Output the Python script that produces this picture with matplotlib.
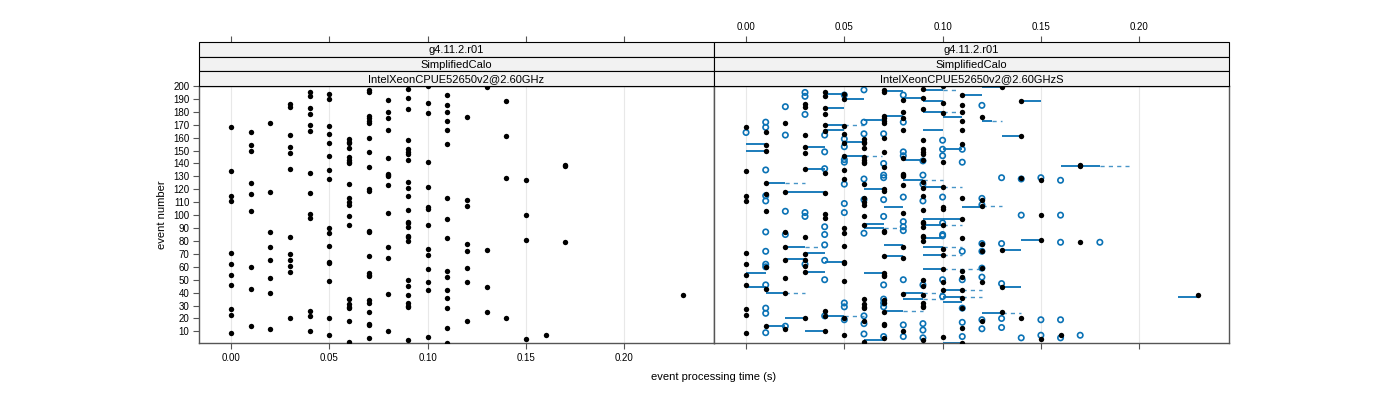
import numpy as np
import matplotlib.pyplot as plt
from matplotlib.patches import Rectangle

plt.rcParams['font.family'] = ['Liberation Sans', 'DejaVu Sans']

# event numbers per processing-time bin (s)
times = [0.00, 0.01, 0.02, 0.03, 0.04, 0.05, 0.06, 0.07, 0.08, 0.09,
         0.10, 0.11, 0.12, 0.13, 0.14, 0.15, 0.16, 0.17, 0.23]
events = [
    [168, 134, 115, 111, 71, 62, 54, 46, 27, 23, 9],
    [164, 154, 150, 125, 116, 103, 60, 43, 14],
    [171, 118, 87, 75, 65, 51, 40, 12],
    [186, 184, 162, 153, 148, 136, 83, 70, 65, 61, 56, 20],
    [195, 192, 183, 178, 170, 165, 133, 117, 101, 98, 26, 22, 10],
    [194, 190, 169, 163, 156, 146, 135, 128, 90, 86, 76, 64, 63, 49, 20, 7],
    [159, 157, 156, 152, 145, 143, 141, 140, 124, 113, 110, 108, 99, 92,
     35, 31, 29, 28, 18, 2],
    [197, 195, 177, 175, 173, 171, 160, 149, 137, 120, 119, 88, 87, 68,
     55, 54, 53, 34, 32, 25, 16, 15, 5],
    [189, 180, 175, 166, 144, 132, 131, 130, 123, 102, 75, 67, 39, 10],
    [198, 191, 182, 158, 151, 149, 147, 143, 126, 121, 115, 104, 95, 94,
     91, 84, 83, 80, 50, 45, 38, 32, 30, 29, 3],
    [200, 187, 179, 141, 122, 106, 105, 92, 74, 69, 58, 48, 42, 6],
    [193, 185, 180, 173, 166, 155, 113, 97, 82, 57, 52, 42, 36, 28, 13, 1],
    [176, 112, 107, 78, 72, 59, 48, 18],
    [199, 73, 44, 25],
    [188, 161, 129, 20],
    [127, 100, 81, 4],
    [7],
    [139, 138, 79],
    [38],
]

# second run (right panel, open circles): time bin and event number
blue_t = [0.03, 0.03, 0.02, 0.03, 0.01, 0.01, 0.00, 0.02, 0.05, 0.06, 0.08, 0.04,
          0.06, 0.05, 0.05, 0.06, 0.07, 0.08, 0.10, 0.10, 0.11, 0.08, 0.08, 0.09,
          0.10, 0.11, 0.04, 0.05, 0.05, 0.07, 0.05, 0.06, 0.07, 0.07, 0.09, 0.09,
          0.04, 0.01, 0.01, 0.01, 0.02, 0.03, 0.03, 0.05, 0.05, 0.06, 0.07, 0.08,
          0.10, 0.12, 0.12, 0.09,
          0.01, 0.02, 0.04, 0.04, 0.04, 0.01, 0.01, 0.01, 0.03, 0.04, 0.04, 0.01,
          0.05, 0.05, 0.04, 0.05, 0.06, 0.06, 0.01, 0.01, 0.02, 0.01, 0.06, 0.07,
          0.06, 0.07, 0.08, 0.08, 0.08, 0.10, 0.10, 0.10, 0.11, 0.12, 0.12, 0.12,
          0.10, 0.08, 0.07, 0.09, 0.11, 0.10, 0.07, 0.07, 0.07, 0.11, 0.09, 0.09,
          0.09, 0.08, 0.08, 0.11, 0.11, 0.12, 0.12,
          0.12, 0.13, 0.14, 0.15, 0.16, 0.14, 0.16,
          0.13, 0.16, 0.18, 0.12, 0.13, 0.13, 0.15, 0.16, 0.13, 0.15, 0.17, 0.14,
          0.16]
blue_ev = [195, 192, 184, 178, 172, 168, 164, 162, 193, 197, 193, 162,
           172, 159, 153, 163, 163, 172, 158, 151, 151, 149, 146, 142,
           146, 141, 149, 143, 141, 140, 124, 128, 131, 129, 131, 124,
           136, 135, 115, 111, 103, 102, 99, 109, 102, 112, 112, 114,
           114, 113, 108, 111,
           87, 85, 91, 85, 77, 72, 62, 60, 62, 65, 50, 46,
           32, 29, 22, 19, 22, 16, 28, 24, 14, 9, 8, 6,
           86, 99, 95, 91, 88, 94, 85, 84, 72, 78, 59, 52,
           50, 50, 46, 46, 50, 37, 35, 32, 29, 28, 16, 11,
           5, 15, 6, 17, 6, 19, 12,
           185, 129, 128, 129, 127, 100, 100,
           78, 79, 79, 72, 47, 20, 19, 19, 13, 7, 7, 5,
           5]

# shift segments: event, start, end of solid part, end of dashed part (s)
seg_ev = [194, 190, 196, 197, 191, 193, 183, 188, 180, 177, 176, 170, 166, 174,
          166, 157, 151, 153, 146, 143, 136, 155, 150, 125, 118, 120, 127, 122,
          106, 97, 106,
          75, 66, 71, 64, 56, 55, 44, 40, 20, 14, 10, 22, 77, 68, 93, 90, 55,
          40, 35, 26, 97, 92, 75, 69, 58, 42, 37, 82, 1, 3, 33,
          199, 188, 173, 161, 138, 107, 81, 73, 44, 37, 24]
seg_t0 = [0.04, 0.05, 0.07, 0.09, 0.08, 0.11, 0.04, 0.09, 0.09, 0.07, 0.10, 0.04,
          0.04, 0.06, 0.09, 0.05, 0.10, 0.03, 0.05, 0.08, 0.03, 0.00, 0.00, 0.01,
          0.02, 0.06, 0.08, 0.09, 0.07, 0.10, 0.11,
          0.02, 0.02, 0.03, 0.04, 0.03, 0.00, 0.00, 0.01, 0.02, 0.01, 0.03, 0.04,
          0.07, 0.07, 0.06, 0.06, 0.06, 0.08, 0.08, 0.07, 0.09, 0.09, 0.09, 0.09,
          0.09, 0.10, 0.10, 0.09, 0.10, 0.06, 0.10,
          0.12, 0.14, 0.12, 0.13, 0.16, 0.12, 0.14, 0.13, 0.13, 0.22, 0.12]
seg_t1 = [0.05, 0.06, 0.08, 0.10, 0.09, 0.12, 0.05, 0.10, 0.10, 0.08, 0.11, 0.05,
          0.05, 0.07, 0.10, 0.06, 0.11, 0.04, 0.06, 0.09, 0.04, 0.01, 0.01, 0.02,
          0.04, 0.07, 0.09, 0.10, 0.08, 0.11, 0.12,
          0.03, 0.03, 0.04, 0.05, 0.04, 0.01, 0.01, 0.02, 0.03, 0.02, 0.04, 0.05,
          0.08, 0.08, 0.07, 0.07, 0.07, 0.09, 0.09, 0.08, 0.10, 0.10, 0.10, 0.10,
          0.10, 0.11, 0.11, 0.10, 0.11, 0.07, 0.11,
          0.13, 0.15, 0.125, 0.14, 0.18, 0.12, 0.15, 0.14, 0.14, 0.23, 0.13]
seg_t2 = [0.05, 0.06, 0.08, 0.107, 0.09, 0.12, 0.05, 0.10, 0.107, 0.08, 0.11, 0.06,
          0.05, 0.07, 0.10, 0.06, 0.11, 0.04, 0.069, 0.09, 0.04, 0.01, 0.01, 0.03,
          0.04, 0.07, 0.10, 0.11, 0.08, 0.11, 0.12,
          0.04, 0.03, 0.04, 0.05, 0.04, 0.01, 0.01, 0.03, 0.03, 0.02, 0.04, 0.06,
          0.08, 0.08, 0.07, 0.08, 0.07, 0.10, 0.10, 0.09, 0.10, 0.11, 0.11, 0.11,
          0.12, 0.12, 0.12, 0.10, 0.11, 0.07, 0.11,
          0.13, 0.15, 0.13, 0.14, 0.195, 0.13, 0.15, 0.14, 0.14, 0.23, 0.14]

strip_rows = ["g4.11.2.r01", "SimplifiedCalo"]
cpu_left = "IntelXeonCPUE52650v2@2.60GHz"
cpu_right = "IntelXeonCPUE52650v2@2.60GHzS"
xticks = [0.00, 0.05, 0.10, 0.15, 0.20]
yticks = list(range(10, 201, 10))

x = np.concatenate([[t] * len(e) for t, e in zip(times, events)])
y = np.concatenate([e for e in events])

fig = plt.figure(figsize=(14, 4), dpi=100)
W, H = 1400, 400
frame_col = "#555555"
blue = "#0a72b5"
xlim = (-0.0163, 0.2457)


def fx(p):
    return p / W


def fy(p):
    return 1 - p / H


px_l, px_m, px_r = 199, 714, 1229
py_top, py_bot = 86, 343
ax1 = fig.add_axes([fx(px_l), fy(py_bot), fx(px_m - px_l), fy(py_top) - fy(py_bot)])
ax2 = fig.add_axes([fx(px_m), fy(py_bot), fx(px_r - px_m), fy(py_top) - fy(py_bot)])

for ax in (ax1, ax2):
    ax.set_xlim(*xlim)
    ax.set_ylim(1, 200)
    for xv in xticks:
        ax.axvline(xv, color="#e8e8e8", lw=0.8, zorder=0)
    for s in ax.spines.values():
        s.set_color(frame_col)
        s.set_linewidth(1.0)
    ax.set_xticks(xticks)
    ax.tick_params(axis="both", direction="out", length=4, color=frame_col,
                   labelsize=7, pad=3)

# right panel: shift segments, second run circles, then the points
for ev, t0, t1, t2 in zip(seg_ev, seg_t0, seg_t1, seg_t2):
    ax2.plot([t0, t1], [ev, ev], color=blue, lw=1.3, solid_capstyle="butt", zorder=1)
    if t2 > t1:
        ax2.plot([t1, t2], [ev, ev], color=blue, lw=1.0, ls=(0, (3, 3)), alpha=0.75, zorder=1)
ax2.scatter(blue_t, blue_ev, s=15, facecolors="none", edgecolors=blue,
            linewidths=1.2, zorder=2)

ax1.scatter(x, y, s=15, color="black", zorder=3, linewidths=0)
ax2.scatter(x, y, s=15, color="black", zorder=3, linewidths=0)

ax1.set_yticks(yticks)
ax1.tick_params(axis="x", top=False, bottom=True, labelbottom=True)
ax1.set_xticklabels(["%.2f" % v for v in xticks])
ax1.tick_params(axis="y", left=True, labelleft=True, right=False)
ax1.set_ylabel("event number", fontsize=8, labelpad=4)

ax2.set_yticks([])
ax2.tick_params(axis="x", top=False, bottom=True, labelbottom=False)

# top tick rows sit above the strips
for left, right, lab in ((px_l, px_m, False), (px_m, px_r, True)):
    axt = fig.add_axes([fx(left), fy(py_bot), fx(right - left), fy(42) - fy(py_bot)])
    axt.set_xlim(*xlim)
    axt.patch.set_visible(False)
    for s in axt.spines.values():
        s.set_visible(False)
    axt.set_yticks([])
    axt.set_xticks(xticks)
    axt.xaxis.set_ticks_position("top")
    axt.tick_params(axis="x", direction="out", length=4, color=frame_col,
                    labelsize=7, pad=3, labeltop=lab, labelbottom=False)
    axt.set_xticklabels(["%.2f" % v for v in xticks])

# strips
strip_edges = [42, 57, 71, 86]
for left, right, cpu in ((px_l, px_m, cpu_left), (px_m, px_r, cpu_right)):
    labels = strip_rows + [cpu]
    for i, lab in enumerate(labels):
        top, bot = strip_edges[i], strip_edges[i + 1]
        fig.patches.append(Rectangle((fx(left), fy(bot)), fx(right - left), fy(top) - fy(bot),
                                     transform=fig.transFigure, facecolor="#f2f2f2",
                                     edgecolor="black", lw=0.8))
        fig.text(fx((left + right) / 2), fy((top + bot) / 2) - 0.002, lab, ha="center",
                 va="center", fontsize=8)

fig.text(fx(714), fy(377), "event processing time (s)", ha="center", va="center",
         fontsize=8)

fig.savefig("out.png", dpi=100)
